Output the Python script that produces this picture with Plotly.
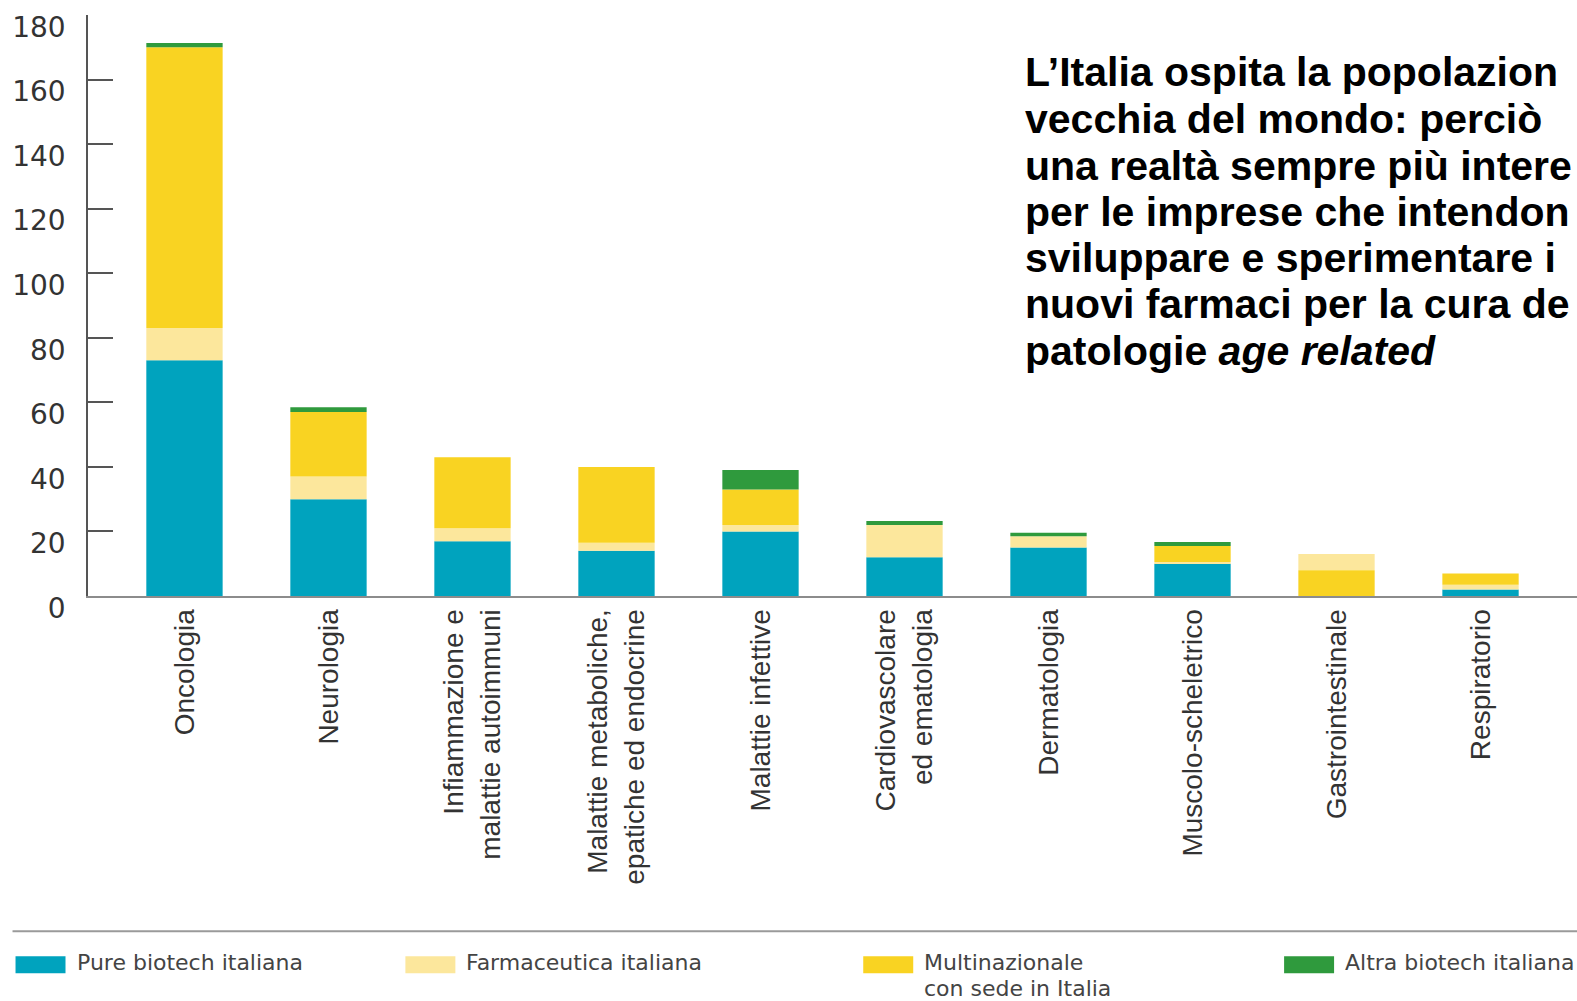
import plotly.graph_objects as go

# ---- data -------------------------------------------------------------
categories = [
    "Oncologia",
    "Neurologia",
    "Infiammazione e<br>malattie autoimmuni",
    "Malattie metaboliche,<br>epatiche ed endocrine",
    "Malattie infettive",
    "Cardiovascolare<br>ed ematologia",
    "Dermatologia",
    "Muscolo-scheletrico",
    "Gastrointestinale",
    "Respiratorio",
]

series_names = [
    "Pure biotech italiana",
    "Farmaceutica italiana",
    "Multinazionale<br>con sede in Italia",
    "Altra biotech italiana",
]

pure_biotech = [73, 30, 17, 14, 20, 12, 15, 10, 0, 2]
farmaceutica = [10, 7, 4, 2.5, 2, 10, 3.5, 0.5, 5, 1.5]
multinazionale = [87, 20, 22, 23.5, 11, 0, 0, 5, 8, 3.5]
altra_biotech = [1.3, 1.5, 0, 0, 6, 1.2, 1.1, 1.2, 0, 0]

# stacking order inside each bar (index into the series); the
# gastrointestinal bar puts the multinational share below the pharma one
default_order = [0, 1, 2, 3]
stack_order = {"Gastrointestinale": [0, 2, 1, 3]}

y_ticks = [0, 20, 40, 60, 80, 100, 120, 140, 160, 180]

headline_lines = [
    "L’Italia ospita la popolazion",
    "vecchia del mondo: perciò",
    "una realtà sempre più intere",
    "per le imprese che intendon",
    "sviluppare e sperimentare i",
    "nuovi farmaci per la cura de",
    "patologie <i>age related</i>",
]

# ---- styling ----------------------------------------------------------
colors = ["#00A3BE", "#FCE79C", "#F9D322", "#2F9A3D"]
W, H = 1577, 1001
M_L, M_R, M_T, M_B = 87.5, 0, 15, 404.5
PLOT_W = W - M_L - M_R
PLOT_H = H - M_T - M_B


def px_x(px):
    return (px - M_L) / PLOT_W


def px_y(py):
    return (H - M_B - py) / PLOT_H


values = [pure_biotech, farmaceutica, multinazionale, altra_biotech]

# cumulative bases following each bar's stacking order
bases = [[0.0] * len(categories) for _ in values]
for ci, cat in enumerate(categories):
    running = 0.0
    for si in stack_order.get(cat, default_order):
        bases[si][ci] = running
        running += values[si][ci]

fig = go.Figure()
for si, name in enumerate(series_names):
    fig.add_trace(
        go.Bar(
            x=categories,
            y=values[si],
            base=bases[si],
            name=name.replace("<br>", " "),
            marker=dict(color=colors[si], line=dict(width=0)),
            width=0.53,
            showlegend=False,
        )
    )

fig.update_layout(
    width=W,
    height=H,
    barmode="overlay",
    plot_bgcolor="white",
    paper_bgcolor="white",
    margin=dict(l=M_L, r=M_R, t=M_T, b=M_B, pad=0),
    xaxis=dict(
        type="category",
        range=[-0.67, 9.67],
        showline=True,
        linecolor="#8c8c8c",
        linewidth=2,
        ticks="",
        tickangle=-90,
        tickfont=dict(family="Liberation Sans, Arial", size=28, color="#333333"),
        ticklabelstandoff=0,
        showgrid=False,
        zeroline=False,
        automargin=False,
    ),
    yaxis=dict(
        range=[0, 180],
        tickvals=y_ticks,
        ticktext=[str(v) for v in y_ticks],
        showline=True,
        linecolor="#555555",
        linewidth=1.5,
        ticks="inside",
        ticklen=25,
        tickwidth=1.5,
        tickcolor="#555555",
        tickfont=dict(family="DejaVu Sans", size=28, color="#333333"),
        ticklabelshift=12,
        ticklabelstandoff=15,
        showgrid=False,
        zeroline=False,
        automargin=False,
    ),
)

# headline text block, one annotation per line for tight leading
line_centres = [72.4, 118.7, 165.9, 212.2, 258.5, 304.7, 351.0]
for text, yc in zip(headline_lines, line_centres):
    fig.add_annotation(
        x=px_x(1023),
        y=px_y(yc),
        xref="paper",
        yref="paper",
        xanchor="left",
        yanchor="middle",
        text=f"<b>{text}</b>",
        showarrow=False,
        font=dict(family="Liberation Sans, Arial", size=41, color="#000000"),
    )

# legend separator rule
fig.add_shape(
    type="line",
    xref="paper",
    yref="paper",
    x0=px_x(12),
    x1=px_x(W + 5),
    y0=px_y(932),
    y1=px_y(932),
    line=dict(color="#9a9a9a", width=2),
)

# legend swatches and labels (one annotation per label line)
swatch_left = [15, 405, 863, 1284]
for si, name in enumerate(series_names):
    x0 = swatch_left[si]
    fig.add_shape(
        type="rect",
        xref="paper",
        yref="paper",
        x0=px_x(x0),
        x1=px_x(x0 + 50),
        y0=px_y(974),
        y1=px_y(957),
        line=dict(width=0),
        fillcolor=colors[si],
    )
    for li, part in enumerate(name.split("<br>")):
        fig.add_annotation(
            x=px_x(x0 + 59),
            y=px_y(963 + 26 * li),
            xref="paper",
            yref="paper",
            xanchor="left",
            yanchor="middle",
            align="left",
            text=part,
            showarrow=False,
            font=dict(family="DejaVu Sans", size=22, color="#444444"),
        )

fig.write_html("out.html")
